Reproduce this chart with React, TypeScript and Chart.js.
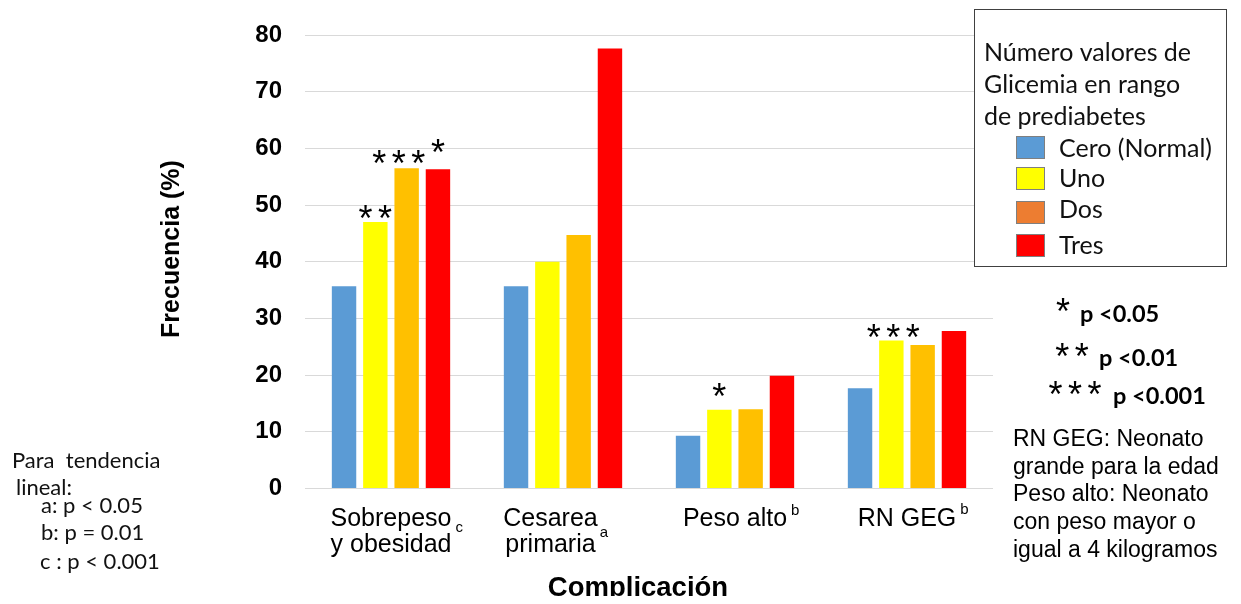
import { useEffect, useRef } from "react";
import { Chart, registerables } from "chart.js";

Chart.register(...registerables);

// Categories (x axis) and trend-test marks shown as superscripts
const categories: (string | string[])[] = [["Sobrepeso", "y obesidad"], ["Cesarea", "primaria"], "Peso alto", "RN GEG"];
const trendMarks = ["c", "a", "b", "b"];

// Frequency (%) per number of prediabetic glycemia values
const seriesNames = ["Cero (Normal)", "Uno", "Dos", "Tres"];
const cero = [35.7, 35.7, 9.3, 17.7];
const uno = [47.0, 40.0, 13.9, 26.1];
const dos = [56.5, 44.7, 14.0, 25.3];
const tres = [56.3, 77.6, 19.9, 27.8];

// Y axis range
const yMin = 0;
const yMax = 80;
const yStep = 10;

// Significance marks over individual bars
const sigCategory = [0, 0, 0, 2, 3];
const sigSeries = [1, 2, 3, 1, 1];
const sigStars = [2, 3, 1, 1, 3];

// Legend and side notes
const legendTitle = ["Número valores de", "Glicemia en rango", "de prediabetes"];
const pStars = [1, 2, 3];
const pTexts = ["p <0.05", "p <0.01", "p <0.001"];
const notes = ["RN GEG: Neonato", "grande para la edad", "Peso alto: Neonato", "con peso mayor o", "igual a 4 kilogramos"];
const trendNotes = ["Para  tendencia", "lineal:", "a: p < 0.05", "b: p = 0.01", "c : p < 0.001"];

// Styling
const barColors = ["#5B9BD5", "#FFFF00", "#FFC000", "#FF0000"];
const swatchColors = ["#5B9BD5", "#FFFF00", "#ED7D31", "#FF0000"];
const sigOffsetX = [0, -8, 0, 0, 2];
const sigGap = [12, 13, 26, 22, 12];
const supRaise = [17, 12, 8, 9];
const labelPad = ["", "\u2003", "", ""];

const ARIAL = '"Liberation Sans", Arial, sans-serif';
const CALIBRI = 'Lato, "Noto Sans", sans-serif';
const TICK_FONT_SIZE = 25;
const TICK_LINE_HEIGHT = 1.05;
const TICK_PADDING = 17;

function drawStars(ctx: CanvasRenderingContext2D, n: number, cx: number, cy: number) {
  const size = 36;
  const spacing = 19.5;
  ctx.font = `${size}px ${ARIAL}`;
  ctx.textAlign = "center";
  ctx.textBaseline = "alphabetic";
  for (let i = 0; i < n; i++) {
    ctx.fillText("*", cx + (i - (n - 1) / 2) * spacing, cy + 0.59 * size);
  }
}

const annotations = {
  id: "annotations",
  afterDraw(chart: any) {
    const ctx: CanvasRenderingContext2D = chart.ctx;
    const xScale = chart.scales.x;
    const area = chart.chartArea;
    ctx.save();
    ctx.fillStyle = "#000";

    // Axis titles
    ctx.font = `bold 25px ${ARIAL}`;
    ctx.textAlign = "center";
    ctx.textBaseline = "middle";
    ctx.save();
    ctx.translate(164, 241);
    ctx.rotate(-Math.PI / 2);
    ctx.fillText("Frecuencia (%)", 0, 0);
    ctx.restore();
    ctx.font = `bold 27.5px ${ARIAL}`;
    ctx.fillText("Complicación", 630, 580);

    // Superscript trend marks after each category label
    const lh = TICK_FONT_SIZE * TICK_LINE_HEIGHT;
    categories.forEach((lbl, i) => {
      const lines = Array.isArray(lbl) ? lbl : [lbl];
      const last = lines[lines.length - 1];
      ctx.font = `${TICK_FONT_SIZE}px ${ARIAL}`;
      const w = ctx.measureText(last).width;
      const pad = ctx.measureText(labelPad[i]).width;
      const x = xScale.getPixelForTick(i) - pad / 2 + w / 2 + 4;
      const lineY = area.bottom + TICK_PADDING + lh / 2 + (lines.length - 1) * lh;
      ctx.font = `15px ${ARIAL}`;
      ctx.textAlign = "left";
      ctx.textBaseline = "middle";
      ctx.fillText(trendMarks[i], x, lineY - supRaise[i]);
    });

    // Significance stars above bars
    sigCategory.forEach((c, k) => {
      const bar = chart.getDatasetMeta(sigSeries[k]).data[c];
      drawStars(ctx, sigStars[k], bar.x + sigOffsetX[k], bar.y - sigGap[k]);
    });

    // Legend box
    ctx.fillStyle = "#fff";
    ctx.fillRect(966, 1.5, 253, 258);
    ctx.strokeStyle = "#404040";
    ctx.lineWidth = 1;
    ctx.strokeRect(966.5, 1.5, 252, 257);
    ctx.fillStyle = "#111";
    ctx.font = `25px ${CALIBRI}`;
    ctx.textAlign = "left";
    ctx.textBaseline = "alphabetic";
    const titleBase = [53, 85, 117];
    legendTitle.forEach((t, i) => ctx.fillText(t, 976, titleBase[i]));
    const swY = [128, 159, 193, 226];
    const labY = [141, 171, 202, 238];
    seriesNames.forEach((name, i) => {
      ctx.fillStyle = swatchColors[i];
      ctx.fillRect(1008, swY[i], 29, 23);
      ctx.strokeStyle = "#7f7f7f";
      ctx.strokeRect(1008.5, swY[i] + 0.5, 28, 22);
      ctx.fillStyle = "#111";
      ctx.textBaseline = "middle";
      ctx.fillText(name, 1051, labY[i]);
    });

    // Significance key
    const starX = [1055, 1064, 1067];
    const starY = [295, 340, 378];
    const pX = [1072, 1091, 1105];
    const pY = [306, 350, 388];
    pStars.forEach((n, i) => {
      ctx.fillStyle = "#000";
      drawStars(ctx, n, starX[i], starY[i]);
      ctx.font = `bold 23.5px ${CALIBRI}`;
      ctx.textAlign = "left";
      ctx.textBaseline = "middle";
      ctx.fillText(pTexts[i], pX[i], pY[i]);
    });

    // Abbreviation notes
    ctx.font = `23px ${ARIAL}`;
    ctx.fillStyle = "#000";
    ctx.textAlign = "left";
    ctx.textBaseline = "middle";
    const noteY = [432, 460, 487, 515, 543];
    notes.forEach((t, i) => ctx.fillText(t, 1005, noteY[i]));

    // Linear trend notes
    ctx.font = `22px ${CALIBRI}`;
    ctx.fillStyle = "#111";
    const tX = [4, 8, 33, 33, 32];
    const tY = [453, 480, 498, 525, 554];
    trendNotes.forEach((t, i) => ctx.fillText(t, tX[i], tY[i]));

    ctx.restore();
  },
};

export default function App() {
  const canvasRef = useRef<HTMLCanvasElement | null>(null);

  useEffect(() => {
    if (!canvasRef.current) return;
    const series = [cero, uno, dos, tres];
    const chart = new Chart(canvasRef.current, {
      type: "bar",
      data: {
        labels: categories,
        datasets: series.map((values, i) => ({
          label: seriesNames[i],
          data: values,
          backgroundColor: barColors[i],
          borderWidth: 0,
          barPercentage: 0.78,
          categoryPercentage: 0.728,
        })),
      },
      options: {
        responsive: true,
        maintainAspectRatio: false,
        animation: false,
        layout: { padding: { left: 150, top: 27, right: 240, bottom: 0 } },
        plugins: {
          legend: { display: false },
          tooltip: { enabled: false },
        },
        scales: {
          x: {
            grid: { display: false, drawTicks: false },
            border: { display: false },
            ticks: {
              autoSkip: false,
              maxRotation: 0,
              padding: TICK_PADDING,
              color: "#000",
              callback: (_v: any, i: number) => {
                const lbl = categories[i];
                const lines = Array.isArray(lbl) ? lbl : [lbl];
                return lines.map((l) => l + labelPad[i]);
              },
              font: { family: ARIAL, size: TICK_FONT_SIZE, lineHeight: TICK_LINE_HEIGHT },
            },
            afterFit: (s: any) => {
              s.height = 107.5;
            },
          },
          y: {
            min: yMin,
            max: yMax,
            grid: { color: "#d9d9d9", drawTicks: false, lineWidth: 1 },
            border: { display: false },
            ticks: {
              stepSize: yStep,
              padding: 23,
              color: "#000",
              font: { family: ARIAL, size: 24, weight: "bold" },
            },
            afterFit: (s: any) => {
              s.width = 147;
              s.paddingTop = 0;
              s.paddingBottom = 0;
            },
          },
        },
      },
      plugins: [annotations],
    });
    return () => chart.destroy();
  }, []);

  return (
    <div style={{ position: "relative", width: 1225, height: 588 }}>
      <canvas ref={canvasRef} />
    </div>
  );
}
